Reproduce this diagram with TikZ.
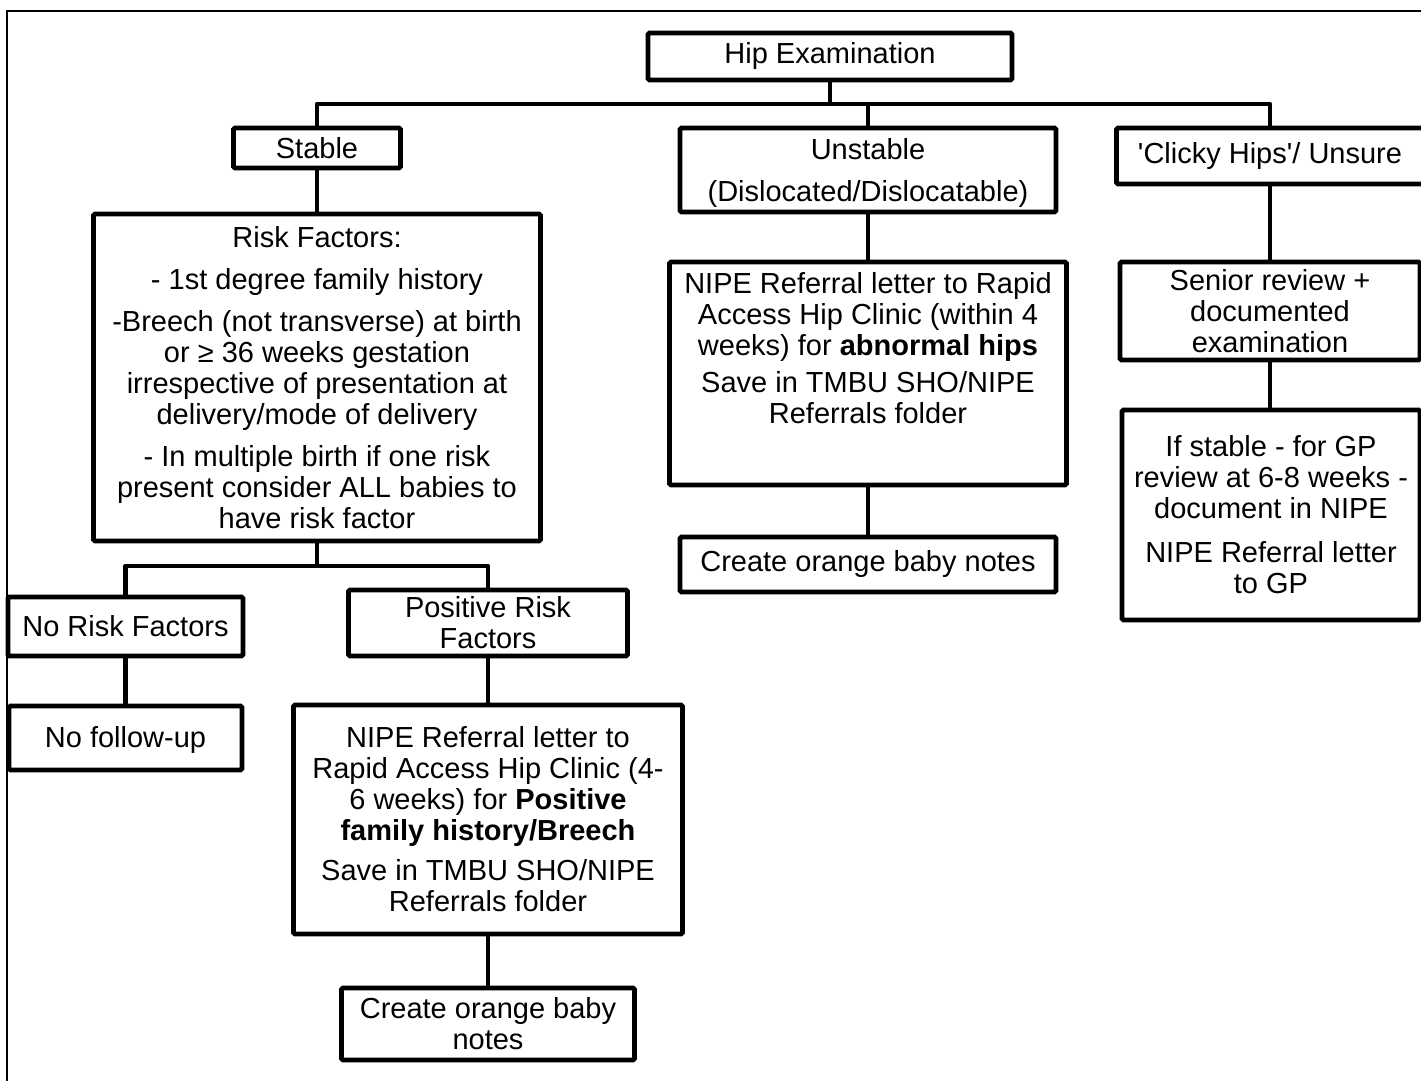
\documentclass[tikz,border=0pt]{standalone}
\usepackage{fontspec}
\setmainfont{Liberation Sans}
\newfontfamily\plainsans{Liberation Sans}[Ligatures=TeXOff]
\begin{document}
\begin{tikzpicture}[x=0.5pt,y=-0.5pt,
  box/.style={draw, line width=2.4pt, rounded corners=0.8pt, inner sep=0pt, align=center,
    font={\fontsize{14.5}{15.5}\selectfont}},
  txt/.style={inner sep=0pt, align=center, font={\fontsize{14.5}{15.5}\selectfont}},
  link/.style={line width=2.4pt, line join=round},
  frame/.style={line width=0.7pt}]
\useasboundingbox (0,0) rectangle (1421,1081);
\clip (0,0) rectangle (1421,1081);
\draw[frame] (7,1100) -- (7,11) -- (1440,11);

% top level
\node[box, minimum width=182pt, minimum height=23.5pt] (hip) at (830,56.5) {Hip Examination};
\node[box, minimum width=83.5pt, minimum height=20pt] (stable) at (317,148) {Stable};
\node[box, minimum width=188pt, minimum height=42pt] (unstable) at (868,170) {\rule{0pt}{14pt}Unstable\\[5.5pt](Dislocated/Dislocatable)};
\node[box, minimum width=153.5pt, minimum height=28pt] (clicky) at (1270,156) {{\plainsans 'Clicky Hips'/ Unsure}};

% stable branch
\node[box, minimum width=223.5pt, minimum height=163.5pt] (risk) at (317,377.5) {Risk Factors:\\[5.5pt]
- 1st degree family history\\[5.5pt]
-Breech (not transverse) at birth\\
or ≥ 36 weeks gestation\\
irrespective of presentation at\\
delivery/mode of delivery\\[5.5pt]
- In multiple birth if one risk\\
present consider ALL babies to\\
have risk factor};
\node[box, minimum width=117.5pt, minimum height=29.5pt] (norisk) at (125.5,626.5) {No Risk Factors};
\node[box, minimum width=139.5pt, minimum height=33pt] (positive) at (488,623) {Positive Risk\\Factors};
\node[box, minimum width=116.5pt, minimum height=32pt] (nofollow) at (125.5,738) {\rule{0pt}{13pt}No follow-up};
\node[box, minimum width=194.5pt, minimum height=114.5pt] (nipeB) at (488,819.5) {NIPE Referral letter to\\
Rapid Access Hip Clinic (4-\\
6 weeks) for \textbf{Positive}\\
\textbf{family history/Breech}\\[4.5pt]
Save in TMBU SHO/NIPE\\
Referrals folder};
\node[box, minimum width=146.5pt, minimum height=36pt] (orangeB) at (488,1024) {Create orange baby\\notes};

% unstable branch
\node[box, minimum width=198.5pt, minimum height=111.5pt] (nipeA) at (868,373.5) {};
\node[txt] (nipeAtext) at (868,348) {NIPE Referral letter to Rapid\\
Access Hip Clinic (within 4\\
weeks) for \textbf{abnormal hips}\\[3pt]
Save in TMBU SHO/NIPE\\
Referrals folder};
\node[box, minimum width=188pt, minimum height=27.5pt] (orangeA) at (868,564.5) {Create orange baby notes};

% clicky branch
\node[box, minimum width=150pt, minimum height=49pt] (senior) at (1270,311) {Senior review +\\documented\\examination};
\node[box, minimum width=149pt, minimum height=105pt] (ifstable) at (1271,515) {If stable - for GP\\
review at 6-8 weeks -\\
document in NIPE\\[6.5pt]
NIPE Referral letter\\
to GP};

% connectors
\coordinate (j1) at (830,104);
\draw[link] (hip.south) -- (j1);
\draw[link] (stable.north) |- (j1) -| (clicky.north);
\draw[link] (unstable.north) -- (unstable.north |- j1);
\draw[link] (stable.south) -- (risk.north);
\coordinate (j2) at (317,566);
\draw[link] (risk.south) -- (j2);
\draw[link] (norisk.north) |- (j2) -| (positive.north);
\draw[link] (norisk.south) -- (nofollow.north);
\draw[link] (positive.south) -- (nipeB.north);
\draw[link] (nipeB.south) -- (orangeB.north);
\draw[link] (unstable.south) -- (nipeA.north);
\draw[link] (nipeA.south) -- (orangeA.north);
\draw[link] (clicky.south) -- (clicky.south |- senior.north);
\draw[link] (senior.south) -- (senior.south |- ifstable.north);
\end{tikzpicture}
\end{document}
